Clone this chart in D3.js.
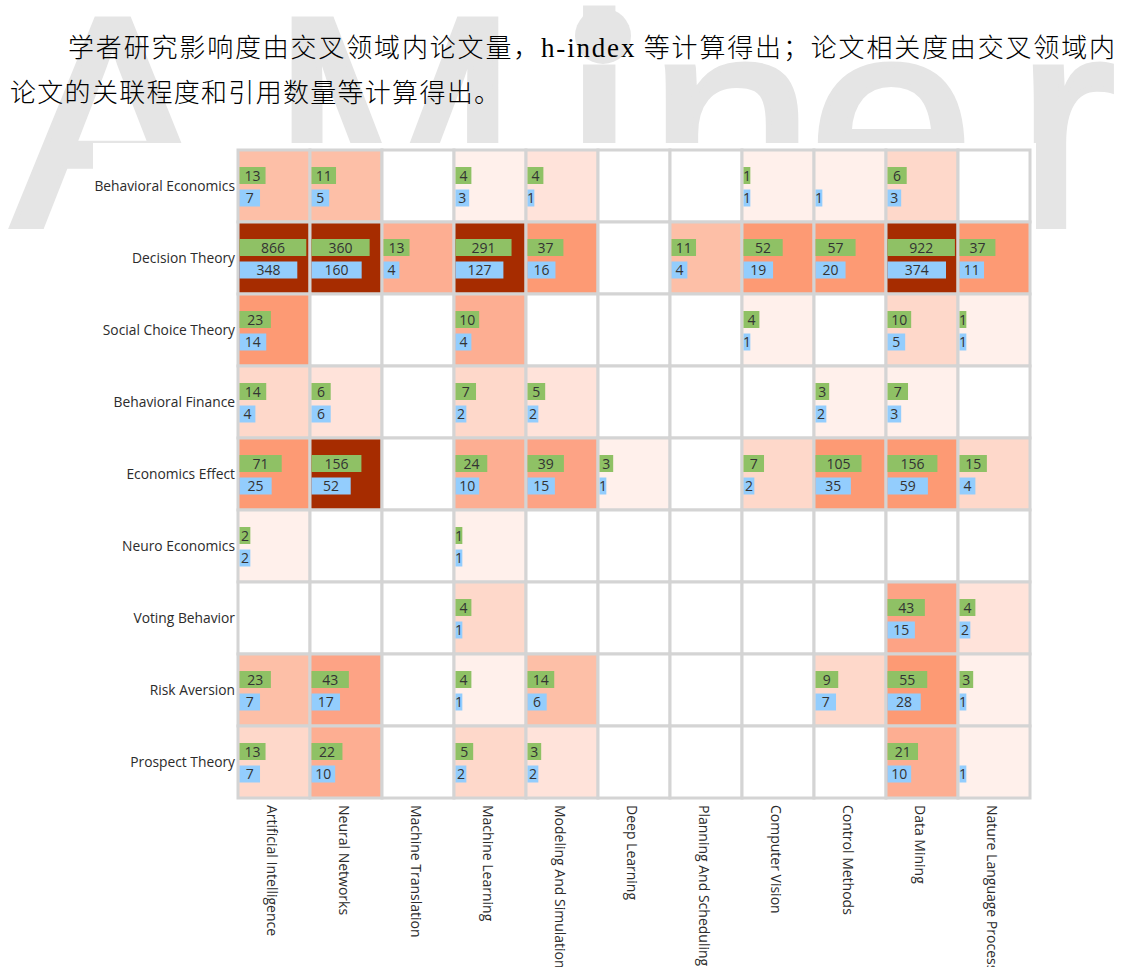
<!DOCTYPE html>
<html>
<head>
<meta charset="utf-8">
<script src="https://cdn.jsdelivr.net/npm/d3@7"></script>
<style>
  body { margin: 0; background: #fff; }
  svg { display: block; }
</style>
</head>
<body>
<svg id="chart"></svg>
<script>
// rows = research topics, cols = crossed fields
const rows = ["Behavioral Economics", "Decision Theory", "Social Choice Theory", "Behavioral Finance",
    "Economics Effect", "Neuro Economics", "Voting Behavior", "Risk Aversion", "Prospect Theory"];
const cols = ["Artificial Intelligence", "Neural Networks", "Machine Translation", "Machine Learning",
    "Modeling And Simulation", "Deep Learning", "Planning And Scheduling", "Computer Vision",
    "Control Methods", "Data Mining", "Nature Language Processing"];

// green bars (scholar influence)
const scholarValues = [
    [13, 11, 0, 4, 4, 0, 0, 1, 0, 6, 0],
    [866, 360, 13, 291, 37, 0, 11, 52, 57, 922, 37],
    [23, 0, 0, 10, 0, 0, 0, 4, 0, 10, 1],
    [14, 6, 0, 7, 5, 0, 0, 0, 3, 7, 0],
    [71, 156, 0, 24, 39, 3, 0, 7, 105, 156, 15],
    [2, 0, 0, 1, 0, 0, 0, 0, 0, 0, 0],
    [0, 0, 0, 4, 0, 0, 0, 0, 0, 43, 4],
    [23, 43, 0, 4, 14, 0, 0, 0, 9, 55, 3],
    [13, 22, 0, 5, 3, 0, 0, 0, 0, 21, 0]
];

// blue bars (paper relevance)
const paperValues = [
    [7, 5, 0, 3, 1, 0, 0, 1, 1, 3, 0],
    [348, 160, 4, 127, 16, 0, 4, 19, 20, 374, 11],
    [14, 0, 0, 4, 0, 0, 0, 1, 0, 5, 1],
    [4, 6, 0, 2, 2, 0, 0, 0, 2, 3, 0],
    [25, 52, 0, 10, 15, 1, 0, 2, 35, 59, 4],
    [2, 0, 0, 1, 0, 0, 0, 0, 0, 0, 0],
    [0, 0, 0, 1, 0, 0, 0, 0, 0, 15, 2],
    [7, 17, 0, 1, 6, 0, 0, 0, 7, 28, 1],
    [7, 10, 0, 2, 2, 0, 0, 0, 0, 10, 1]
];

// cell heat level (0 = empty)
const heatLevels = [
    [4, 4, 0, 1, 2, 0, 0, 1, 1, 3, 0],
    [8, 8, 5, 8, 7, 0, 4, 7, 7, 8, 7],
    [7, 0, 0, 5, 0, 0, 0, 1, 0, 3, 1],
    [3, 2, 0, 3, 2, 0, 0, 0, 1, 1, 0],
    [7, 8, 0, 5, 6, 1, 0, 3, 7, 7, 3],
    [1, 0, 0, 1, 0, 0, 0, 0, 0, 0, 0],
    [0, 0, 0, 3, 0, 0, 0, 0, 0, 6, 2],
    [4, 6, 0, 1, 4, 0, 0, 0, 3, 7, 1],
    [3, 5, 0, 3, 2, 0, 0, 0, 0, 5, 1]
];

const heatColors = ["#ffffff", "#fff0eb", "#ffe3da", "#fed8ca", "#fdbfa7", "#fdae92", "#fda385", "#fd9a74", "#a62c00"];

const introLine1 = ["学者研究影响度由交叉领域内论文量，", "h-index", " 等计算得出；论文相关度由交叉领域内"];
const introLine2 = "论文的关联程度和引用数量等计算得出。";

const W = 1124, H = 967;
const svg = d3.select("#chart").attr("width", W).attr("height", H);

// faint watermark behind everything
const wm = svg.append("g").attr("fill", "#e5e5e5");
wm.append("text")
    .attr("x", "12 270 566 648 808 1016")
    .attr("y", 226)
    .attr("font-family", "Liberation Sans, Arial, sans-serif")
    .attr("font-size", 300)
    .attr("stroke", "#e5e5e5")
    .attr("stroke-width", 6)
    .text("AMiner");
wm.append("circle").attr("cx", 603).attr("cy", 36).attr("r", 28);

// intro paragraph
const t1 = svg.append("text")
    .attr("x", 68).attr("y", 57)
    .attr("font-family", "Noto Sans CJK SC, sans-serif")
    .attr("font-weight", 300)
    .attr("font-size", 26)
    .attr("fill", "#000")
    .attr("textLength", 1047)
    .attr("lengthAdjust", "spacing");
t1.append("tspan").text(introLine1[0]);
t1.append("tspan").attr("font-family", "Liberation Serif, serif").attr("font-size", 27).text(introLine1[1]);
t1.append("tspan").text(introLine1[2]);

svg.append("text")
    .attr("x", 10).attr("y", 102)
    .attr("font-family", "Noto Sans CJK SC, sans-serif")
    .attr("font-weight", 300)
    .attr("font-size", 26)
    .attr("fill", "#000")
    .attr("textLength", 490)
    .attr("lengthAdjust", "spacing")
    .text(introLine2);

// white panel for the chart image
svg.append("rect")
    .attr("x", 93).attr("y", 143)
    .attr("width", 1036 - 93).attr("height", H - 143)
    .attr("fill", "#fff");

const x = d3.scaleBand().domain(cols).range([238, 1030]);
const y = d3.scaleBand().domain(rows).range([150, 798]);

const maxVal = d3.max(scholarValues.concat(paperValues).flat());
const barW = d3.scaleSymlog().domain([0, maxVal]).range([0, 67.4]);

const cells = [];
rows.forEach((r, i) => cols.forEach((c, j) => {
    cells.push({ row: r, col: c, green: scholarValues[i][j], blue: paperValues[i][j], level: heatLevels[i][j] });
}));

const g = svg.append("g");

g.selectAll(".cell")
    .data(cells)
    .enter().append("rect")
    .attr("class", "cell")
    .attr("x", d => x(d.col))
    .attr("y", d => y(d.row))
    .attr("width", x.bandwidth())
    .attr("height", y.bandwidth())
    .attr("fill", d => heatColors[d.level])
    .attr("stroke", "#d4d4d4")
    .attr("stroke-width", 3);

const bars = [
    { key: "green", off: 17, color: "#8fc165" },
    { key: "blue", off: 39.5, color: "#93cdfd" }
];

bars.forEach(b => {
    const sel = g.selectAll(".bar-" + b.key)
        .data(cells.filter(d => d[b.key] > 0))
        .enter().append("g")
        .attr("class", "bar-" + b.key);

    sel.append("rect")
        .attr("x", d => x(d.col) + 1.5)
        .attr("y", d => y(d.row) + b.off)
        .attr("width", d => barW(d[b.key]))
        .attr("height", 17)
        .attr("fill", b.color);

    sel.append("text")
        .attr("x", d => x(d.col) + 1.5 + barW(d[b.key]) / 2)
        .attr("y", d => y(d.row) + b.off + 8.5)
        .attr("dy", "0.36em")
        .attr("text-anchor", "middle")
        .attr("font-family", "Open Sans, sans-serif")
        .attr("font-size", 14)
        .attr("fill", "#333")
        .text(d => d[b.key]);
});

// row labels
g.selectAll(".rlabel")
    .data(rows)
    .enter().append("text")
    .attr("class", "rlabel")
    .attr("x", 235)
    .attr("y", d => y(d) + y.bandwidth() / 2)
    .attr("dy", "0.35em")
    .attr("text-anchor", "end")
    .attr("font-family", "Open Sans, sans-serif")
    .attr("font-size", 13.8)
    .attr("fill", "#2b2b2b")
    .text(d => d);

// column labels, rotated
g.selectAll(".clabel")
    .data(cols)
    .enter().append("text")
    .attr("class", "clabel")
    .attr("transform", d => `translate(${x(d) + x.bandwidth() / 2 - 2},805) rotate(90)`)
    .attr("dy", "0.35em")
    .attr("text-anchor", "start")
    .attr("font-family", "Open Sans, sans-serif")
    .attr("font-size", 14)
    .attr("fill", "#2b2b2b")
    .text(d => d);
</script>
</body>
</html>
